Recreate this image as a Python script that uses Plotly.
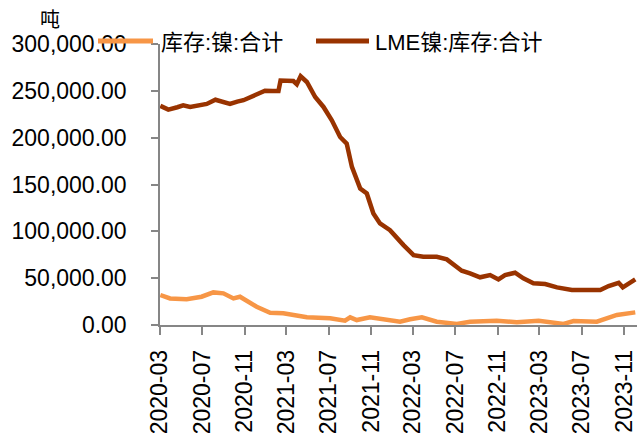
import plotly.graph_objects as go

# ---------------- data ----------------
lme_dates = [
    "2020-03-02", "2020-03-25", "2020-04-20", "2020-05-07", "2020-05-27", "2020-06-20",
    "2020-07-14", "2020-08-08", "2020-09-01", "2020-09-19", "2020-10-10", "2020-10-28",
    "2020-12-01", "2020-12-29", "2021-01-20", "2021-02-06", "2021-02-12", "2021-03-05",
    "2021-03-21", "2021-03-31", "2021-04-11", "2021-04-29", "2021-05-23", "2021-06-16",
    "2021-07-10", "2021-08-03", "2021-08-22", "2021-09-06", "2021-09-30", "2021-10-19",
    "2021-11-07", "2021-11-26", "2021-12-25", "2022-02-02", "2022-03-03", "2022-03-31",
    "2022-05-09", "2022-06-07", "2022-06-26", "2022-07-20", "2022-08-13", "2022-09-11",
    "2022-10-10", "2022-11-03", "2022-11-22", "2022-12-21", "2023-01-14", "2023-02-12",
    "2023-03-18", "2023-04-21", "2023-06-03", "2023-07-06", "2023-08-24", "2023-09-17",
    "2023-10-16", "2023-10-28", "2023-11-13", "2023-12-03",
]
lme_values = [
    234000, 230000, 232500, 234500, 232800, 234000,
    236000, 240500, 237500, 236000, 238500, 240000,
    245500, 250200, 249800, 249800, 261000, 261000,
    260500, 257000, 265500, 259400, 243400, 232800,
    218500, 200700, 193700, 168800, 145700, 140400,
    119100, 108400, 101300, 85300, 74600, 72800,
    72800, 70000, 65000, 57900, 55100, 50900,
    53300, 48700, 53300, 55800, 49800, 44500,
    43700, 40200, 37300, 37300, 37300, 41600,
    45100, 40200, 44500, 48700,
]

cn_dates = [
    "2020-03-02", "2020-03-30", "2020-05-17", "2020-06-29", "2020-08-02", "2020-08-31",
    "2020-09-29", "2020-10-18", "2020-12-05", "2021-01-13", "2021-02-20", "2021-04-29",
    "2021-07-05", "2021-08-17", "2021-09-01", "2021-09-20", "2021-10-28", "2021-12-06",
    "2022-01-23", "2022-02-21", "2022-03-27", "2022-05-09", "2022-07-06", "2022-08-13",
    "2022-10-29", "2022-12-26", "2023-02-27", "2023-05-10", "2023-06-08", "2023-08-14",
    "2023-10-11", "2023-12-03",
]
cn_values = [
    32000, 28400, 27400, 30200, 34800, 33800,
    28400, 30200, 19500, 13100, 12500, 8200,
    7100, 4600, 8200, 5300, 8200, 6100,
    3500, 6100, 8200, 3500, 1100, 3500,
    4600, 2900, 4600, 1100, 4300, 3500,
    10700, 13500,
]

series_names = ["库存:镍:合计", "LME镍:库存:合计"]
series_colors = ["#F79646", "#993300"]
unit_label = "吨"

y_range = [0, 300000]
y_tick_vals = [0, 50000, 100000, 150000, 200000, 250000, 300000]
x_range = ["2020-03-01", "2023-12-08"]

# ---------------- layout constants ----------------
W, H = 638, 433
ML, MR, MT, MB = 160, 1, 44, 108
PW, PH = W - ML - MR, H - MT - MB

def px_x(x):
    return (x - ML) / PW

def px_y(y):
    return (H - MB - y) / PH

FONT = "Liberation Sans, Arial, Noto Sans CJK SC, sans-serif"
CJK_FONT = "Liberation Sans, Noto Sans CJK SC, sans-serif"
AXIS_GRAY = "#868686"

fig = go.Figure()
fig.add_trace(go.Scatter(x=cn_dates, y=cn_values, mode="lines", name=series_names[0],
                         line=dict(color=series_colors[0], width=4.5), showlegend=False))
fig.add_trace(go.Scatter(x=lme_dates, y=lme_values, mode="lines", name=series_names[1],
                         line=dict(color=series_colors[1], width=4.5), showlegend=False))

# manual legend (line samples + labels)
legend_items = [
    (98, 153, 159, series_names[0], series_colors[0]),
    (316, 369, 373, series_names[1], series_colors[1]),
]
shapes = []
annotations = []
for x0, x1, xt, name, col in legend_items:
    shapes.append(dict(type="line", xref="paper", yref="paper",
                       x0=px_x(x0), x1=px_x(x1), y0=px_y(41), y1=px_y(41),
                       line=dict(color=col, width=5)))
    annotations.append(dict(text=name, xref="paper", yref="paper", x=px_x(xt), y=px_y(42),
                            xanchor="left", yanchor="middle", showarrow=False,
                            font=dict(family=CJK_FONT, size=22, color="#000000")))

annotations.append(dict(text=unit_label, xref="paper", yref="paper", x=px_x(50), y=px_y(19),
                        xanchor="center", yanchor="middle", showarrow=False,
                        font=dict(family="Noto Sans CJK SC, sans-serif", size=20, color="#000000")))

fig.update_layout(
    width=W, height=H,
    margin=dict(l=ML, r=MR, t=MT, b=MB, pad=0, autoexpand=False),
    paper_bgcolor="white", plot_bgcolor="white",
    shapes=shapes, annotations=annotations,
    font=dict(family=FONT, size=23, color="#000000"),
)
fig.update_xaxes(
    type="date", range=x_range, tick0="2020-03-01", dtick="M4", tickformat="%Y-%m",
    tickangle=-90, ticks="outside", ticklen=8, tickcolor=AXIS_GRAY, tickwidth=1.5,
    showline=True, linecolor=AXIS_GRAY, linewidth=1.5, showgrid=False, zeroline=False,
    tickfont=dict(family=FONT, size=23, color="#000000"), ticklabelstandoff=6,
    automargin=False,
)
fig.update_yaxes(
    range=y_range, tickvals=y_tick_vals, tickformat=",.2f",
    ticks="outside", ticklen=7, tickcolor=AXIS_GRAY, tickwidth=1.5,
    showline=True, linecolor=AXIS_GRAY, linewidth=1.5, showgrid=False, zeroline=False,
    tickfont=dict(family=FONT, size=23, color="#000000"), ticklabelstandoff=20,
    automargin=False,
)

fig.write_html("out.html",
               config={"displayModeBar": False},
               post_script="document.body.style.margin='0';document.body.style.overflow='hidden';")
